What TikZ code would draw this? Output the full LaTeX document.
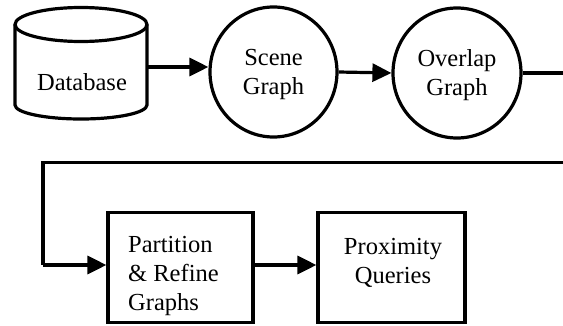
\documentclass[tikz,border=0pt]{standalone}
\usepackage{fontspec}
\setmainfont{Liberation Serif}
\usetikzlibrary{arrows.meta,shapes.geometric}
\begin{document}
\begin{tikzpicture}[x=1pt,y=1pt,
  lw/.style={line width=3.2pt},
  arr/.style={lw,-{Triangle[length=19pt,width=18pt]}},
  circ/.style={ellipse,draw,lw,inner sep=0pt,minimum height=130pt},
  boxnode/.style={rectangle,draw,lw,inner sep=0pt,minimum height=110pt},
  txt/.style={font=\fontsize{24.5}{29}\selectfont,inner sep=0pt}]
\useasboundingbox (0,0) rectangle (563,325);
\clip (0,0) rectangle (563,325);
% Database cylinder
\draw[lw] (15,300.5) -- (15,220) arc[start angle=180,end angle=360,x radius=66pt,y radius=14pt] -- (147,300.5);
\draw[lw] (81,300.5) ellipse[x radius=66pt,y radius=17pt];
\node[txt] (db) at (82,243) {Database};
\coordinate (dbr) at (147,258);
% circles
\node[circ,minimum width=127pt] (sc) at (273.5,253) {};
\node[txt,align=center] (sct) at (273.5,251) {Scene\\Graph};
\node[circ,minimum width=128pt] (ov) at (457,252) {};
\node[txt,align=center] (ovt) at (457,250) {Overlap\\Graph};
% boxes
\node[boxnode,minimum width=145pt] (pr) at (180.5,57.3) {};
\node[txt,anchor=west,align=left] (prt) at (128,49) {Partition\\\& Refine\\Graphs};
\node[boxnode,minimum width=147pt] (pq) at (391.5,57.3) {};
\node[txt,align=center] (pqt) at (393,62.5) {Proximity\\Queries};
% connectors
\coordinate (c1) at (575,252);
\coordinate (c2) at (575,162.3);
\coordinate (c3) at (43,162.3);
\draw[arr] (dbr) -- (sc.west |- dbr);
\draw[arr] (sc.east) -- (ov.west);
\draw[lw] (ov.east) -- (c1) -- (c2) -- (c3) -- (c3 |- 0,60);
\draw[arr] (c3 |- 0,60) -- (pr.west |- 0,60);
\draw[arr] (pr.east |- 0,60) -- (pq.west |- 0,60);
\end{tikzpicture}
\end{document}
